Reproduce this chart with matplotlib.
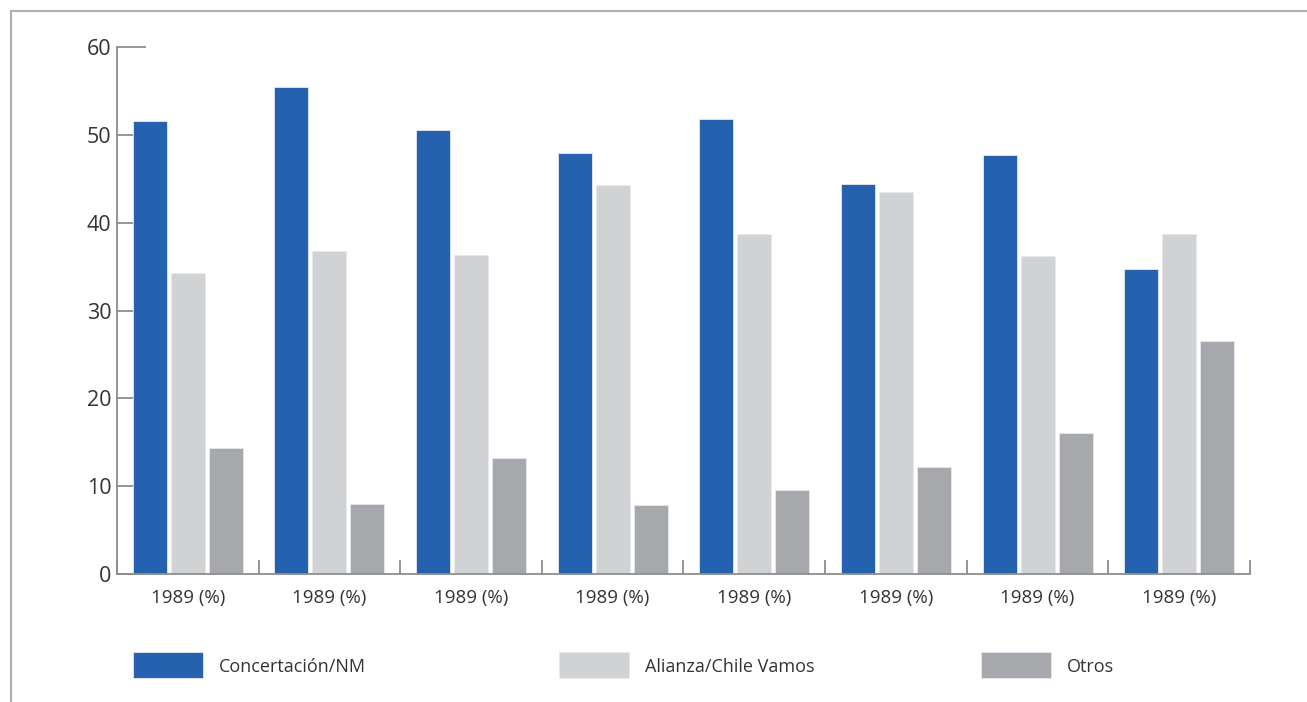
import numpy as np
import matplotlib.pyplot as plt
from matplotlib.patches import Rectangle
from matplotlib.lines import Line2D

# === 1. Dados ===
grupos = ["1989 (%)"] * 8
series = ["Concertación/NM", "Alianza/Chile Vamos", "Otros"]
concertacion = [51.6, 55.4, 50.6, 47.9, 51.8, 44.4, 47.7, 34.7]
alianza = [34.3, 36.8, 36.3, 44.3, 38.7, 43.5, 36.2, 38.7]
otros = [14.3, 8.0, 13.2, 7.9, 9.6, 12.2, 16.1, 26.5]
cores = ["#2462b0", "#d1d2d4", "#a7a8ab"]

plt.rcParams['font.family'] = ['Open Sans', 'DejaVu Sans']

fig = plt.figure(figsize=(13.07, 7.02), dpi=100)
ax = fig.add_axes([0.0895, 0.1823, 0.8669, 0.7507])

# === 2. Barras ===
x = np.arange(len(grupos))
largura = 0.24
passo = 0.268
for i, (vals, cor) in enumerate(zip([concertacion, alianza, otros], cores)):
    ax.bar(x + (i - 1) * passo, vals, width=largura, color=cor,
           edgecolor="#e6e9f0", linewidth=0.6, zorder=2)

# === 3. Eixos ===
cinza = "#8e8e8e"
ax.set_xlim(-0.5, len(grupos) - 0.5)
ax.set_ylim(0, 60)
ax.set_yticks(range(0, 61, 10))
ax.set_xticks(x)
ax.set_xticklabels(grupos, fontsize=13.5, color="#333333")
ax.tick_params(axis="x", length=0, pad=11)
ax.set_xticks(np.arange(-0.5, len(grupos)), minor=True)
ax.tick_params(axis="x", which="minor", direction="in", length=10,
               width=1.3, color=cinza)
ax.tick_params(axis="y", direction="in", length=21, width=1.3, color=cinza,
               labelsize=15.5, labelcolor="#333333", pad=4)
ax.set_axisbelow(True)
for lado in ["top", "right"]:
    ax.spines[lado].set_visible(False)
for lado in ["left", "bottom"]:
    ax.spines[lado].set_color(cinza)
    ax.spines[lado].set_linewidth(1.3)

# === 4. Moldura ===
moldura = "#b0b0b0"
fig.add_artist(Line2D([11 / 1307, 1.0], [1 - 11 / 702, 1 - 11 / 702],
                      color=moldura, lw=1.5))
fig.add_artist(Line2D([11 / 1307, 11 / 1307], [0.0, 1 - 11 / 702],
                      color=moldura, lw=1.5))

# === 5. Legenda ===
leg_x = [133, 559, 981]
for nome, cor, lx in zip(series, cores, leg_x):
    fig.add_artist(Rectangle((lx / 1307, 1 - 678 / 702), 70 / 1307, 26 / 702,
                             facecolor=cor, edgecolor="#e6e9f0", lw=0.6,
                             transform=fig.transFigure))
    fig.text((lx + 86) / 1307, 1 - 667 / 702, nome, fontsize=13,
             color="#333333", va="center", ha="left")

fig.savefig("out.png", dpi=100)
